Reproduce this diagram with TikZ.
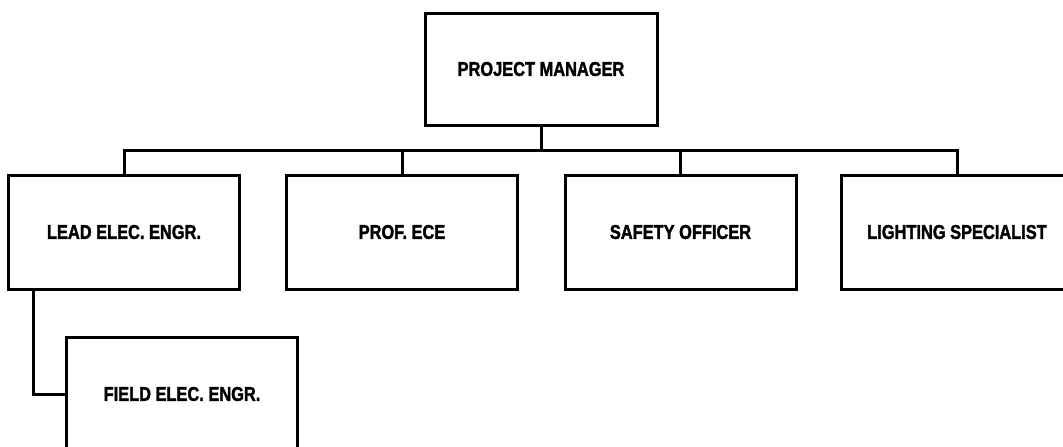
\documentclass[tikz,border=0pt]{standalone}
\usepackage{fontspec}
\setmainfont{Liberation Sans}[FakeStretch=0.82, BoldFeatures={FakeBold=1.6}]
\begin{document}
\begin{tikzpicture}[x=1pt,y=-1pt,
  orgbox/.style={draw, line width=3pt, rectangle, minimum width=231pt, minimum height=114pt,
    font=\fontsize{20pt}{22pt}\selectfont\bfseries, inner sep=0pt},
  link/.style={line width=3pt}]
\useasboundingbox (0,0) rectangle (1063,447);
\clip (0,0) rectangle (1063,447);
\node[orgbox, minimum width=232pt, minimum height=112pt] (pm) at (541,69) {PROJECT MANAGER};
\node[orgbox] (lead)   at (124,232) {LEAD ELEC. ENGR.};
\node[orgbox] (prof)   at (402,232) {PROF. ECE};
\node[orgbox] (safety) at (680.5,232) {SAFETY OFFICER};
\node[orgbox] (light)  at (957,232) {LIGHTING SPECIALIST};
\node[orgbox] (field)  at (182,394) {FIELD ELEC. ENGR.};
\coordinate (bus) at (0,150);
\coordinate (leadtap) at (33,289);
\draw[link] (pm.south) -- (pm.south |- bus);
\draw[link] (lead.north) -- (lead.north |- bus) -- (light.north |- bus) -- (light.north);
\draw[link] (prof.north) -- (prof.north |- bus);
\draw[link] (safety.north) -- (safety.north |- bus);
\draw[link] (leadtap) |- (field.west);
\end{tikzpicture}
\end{document}
